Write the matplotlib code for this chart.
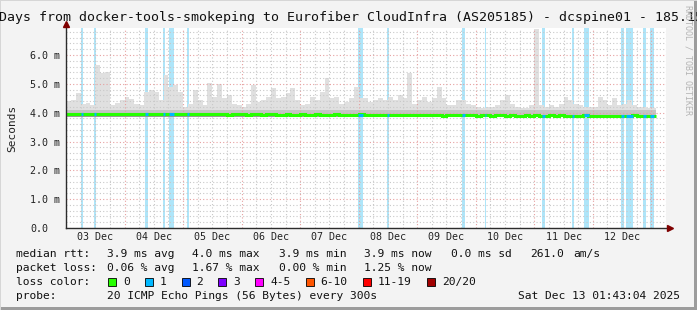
import matplotlib
matplotlib.use("Agg")
import matplotlib.pyplot as plt
import numpy as np
from matplotlib.patches import Rectangle

W, H, DPI = 697, 310, 100
MONO = "DejaVu Sans Mono"

title = "10 Days from docker-tools-smokeping to Eurofiber CloudInfra (AS205185) - dcspine01 - 185.15"
day_labels = ["03 Dec", "04 Dec", "05 Dec", "06 Dec", "07 Dec",
              "08 Dec", "09 Dec", "10 Dec", "11 Dec", "12 Dec"]

# time axis: days since 03 Dec 00:00, graph ends Sat Dec 13 01:43:04
start_day = (1 + 43 / 60 + 4 / 3600) / 24
end_day = 10 + start_day

# smoke (max ping) per 2 hour bin, in ms
bin_hours = 2
smoke_top = [
    4.40, 4.44, 4.68, 4.30, 4.35, 4.25, 5.66, 5.37, 5.40, 4.25,
    4.35, 4.44, 4.56, 4.47, 4.30, 4.25, 4.70, 4.80, 4.73, 4.44,
    5.30, 4.90, 4.96, 4.73, 4.20, 4.30, 4.80, 4.44, 4.25, 5.02,
    4.56, 5.00, 4.50, 4.60, 4.30, 4.25, 4.20, 4.30, 4.96, 4.38,
    4.44, 4.56, 4.85, 4.50, 4.56, 4.68, 4.85, 4.44, 4.25, 4.30,
    4.56, 4.44, 4.73, 5.20, 4.50, 4.56, 4.30, 4.38, 4.50, 4.90,
    4.50, 4.50, 4.38, 4.44, 4.50, 4.44, 4.56, 4.44, 4.60, 4.50,
    5.37, 4.30, 4.44, 4.56, 4.38, 4.50, 4.90, 4.50, 4.25, 4.25,
    4.44, 4.44, 4.30, 4.25, 4.20, 4.15, 4.20, 4.20, 4.25, 4.44,
    4.60, 4.30, 4.20, 4.15, 4.15, 4.25, 6.90, 4.25, 4.20, 4.25,
    4.20, 4.30, 4.56, 4.44, 4.30, 4.25, 4.20, 4.20, 4.20, 4.55,
    4.45, 4.25, 4.50, 4.25, 4.30, 4.45, 4.25, 4.20, 4.20, 4.15,
    4.15,
]
median_rtt = [
    3.95, 3.96, 3.95, 3.96, 3.97, 3.96, 3.95, 3.94, 3.95, 3.96,
    3.96, 3.95, 3.95, 3.94, 3.95, 3.96, 3.95, 3.95, 3.94, 3.95,
    3.96, 3.95, 3.94, 3.95, 3.95, 3.94, 3.95, 3.95, 3.94, 3.94,
    3.95, 3.94, 3.94, 3.93, 3.94, 3.95, 3.94, 3.93, 3.94, 3.94,
    3.93, 3.94, 3.94, 3.93, 3.93, 3.94, 3.93, 3.93, 3.94, 3.93,
    3.93, 3.94, 3.93, 3.92, 3.93, 3.94, 3.93, 3.93, 3.92, 3.93,
    3.94, 3.93, 3.92, 3.93, 3.93, 3.92, 3.93, 3.92, 3.92, 3.93,
    3.92, 3.92, 3.91, 3.92, 3.92, 3.91, 3.92, 3.90, 3.91, 3.92,
    3.91, 3.91, 3.92, 3.91, 3.90, 3.91, 3.91, 3.90, 3.91, 3.91,
    3.90, 3.91, 3.90, 3.90, 3.91, 3.90, 3.91, 3.90, 3.90, 3.91,
    3.90, 3.91, 3.90, 3.89, 3.90, 3.90, 3.91, 3.90, 3.89, 3.90,
    3.90, 3.89, 3.90, 3.90, 3.89, 3.90, 3.91, 3.90, 3.89, 3.90,
    3.90,
]
smoke_low = 3.84
smoke_mid = 4.10

# periods with 1/20 packet loss (days since 03 Dec 00:00)
loss_spans = [
    (0.250, 0.283), (0.483, 0.517), (1.350, 1.400), (1.650, 1.683),
    (1.767, 1.850), (2.067, 2.100), (4.983, 5.067), (5.483, 5.517),
    (6.767, 6.817), (7.150, 7.183), (8.133, 8.183), (8.650, 8.683),
    (8.850, 8.933), (9.483, 9.533), (9.567, 9.683), (9.850, 9.900),
    (9.983, 10.050),
]

loss_names = ["0", "1", "2", "3", "4-5", "6-10", "11-19", "20/20"]
loss_colors = ["#26ff00", "#00b8ff", "#0059ff", "#7e00ff",
               "#ff00ff", "#ff5500", "#ff0000", "#a10000"]

rtt_row = ["3.9 ms avg", "4.0 ms max", "3.9 ms min", "3.9 ms now", "0.0 ms sd", "261.0", "am/s"]
loss_row = ["0.06 % avg", "1.67 % max", "0.00 % min", "1.25 % now"]
probe_text = "20 ICMP Echo Pings (56 Bytes) every 300s"
stamp = "Sat Dec 13 01:43:04 2025"

fig = plt.figure(figsize=(W / DPI, H / DPI), dpi=DPI, facecolor="#f3f3f3")


def fx(px):
    return px / W


def fy(py):
    return 1 - py / H


# frame of the image
fig.patches.append(Rectangle((0, 0), 1, fy(307), transform=fig.transFigure,
                             facecolor="#9c9c9c", lw=0, zorder=-5))
fig.patches.append(Rectangle((fx(694), 0), fx(3), 1, transform=fig.transFigure,
                             facecolor="#9c9c9c", lw=0, zorder=-5))
fig.patches.append(Rectangle((0, fy(1)), 1, fy(0) - fy(1), transform=fig.transFigure,
                             facecolor="#d6d6d6", lw=0, zorder=-5))
fig.patches.append(Rectangle((0, 0), fx(1), 1, transform=fig.transFigure,
                             facecolor="#d6d6d6", lw=0, zorder=-5))

ax = fig.add_axes([fx(66), fy(228), fx(600), fy(28) - fy(228)])
ax.set_facecolor("white")
for s in ax.spines.values():
    s.set_visible(False)

for s, e in loss_spans:
    ax.axvspan(s, e, color="#aee5f9", lw=0, zorder=0.5)

edges = np.arange(len(smoke_top) + 1) * bin_hours / 24
top = np.array(smoke_top)
med = np.array(median_rtt)
ax.stairs(top, edges, baseline=smoke_low, fill=True, color="#e0e0e0", zorder=1)
ax.stairs(np.minimum(top, smoke_mid), edges, baseline=smoke_low, fill=True,
          color="#c4c4c4", zorder=1.1)
ax.stairs(med - 0.03, edges, baseline=smoke_low + 0.01, fill=True,
          color="#9a9a9a", zorder=1.2)
ax.stairs(med, edges, baseline=None, color=loss_colors[0], lw=2.2, zorder=3)
for s, e in loss_spans:
    i = min(int(s * 24 / bin_hours), len(med) - 1)
    ax.hlines(med[i], s, e, color=loss_colors[1], lw=2.2, zorder=3.5)

ax.set_xlim(start_day, end_day)
ax.set_ylim(0, 200 / 28.83)

ax.set_xticks(np.arange(1, 11))
ax.set_xticks(np.arange(0, 10.5, 0.25), minor=True)
ax.set_yticks(np.arange(0, 7))
ax.set_yticks(np.arange(0, 7, 0.2), minor=True)
ax.set_xticklabels([])
ax.set_yticklabels(["0.0"] + [f"{v:.1f} m" for v in range(1, 7)],
                   fontfamily=MONO, fontsize=7.2, color="#222222", ha="left")
ax.tick_params(which="both", length=0)
ax.tick_params(axis="y", pad=36 / 1.389)
ax.set_axisbelow(False)
ax.grid(which="minor", color="#c8c8c8", ls=(0, (1, 2)), lw=0.8)
ax.grid(which="major", color="#e6a0a0", ls=(0, (1, 2)), lw=0.8)

sec = ax.secondary_xaxis("bottom")
sec.set_xticks(np.arange(10) + 0.5, day_labels, fontfamily=MONO, fontsize=7.2, color="#222222")
sec.tick_params(length=0, pad=3)
sec.spines["bottom"].set_visible(False)

# axes with arrows
ax.plot([0, 1.007], [0, 0], transform=ax.transAxes, color="#2c2c2c", lw=1, clip_on=False, zorder=5)
ax.plot([0, 0], [0, 1.02], transform=ax.transAxes, color="#2c2c2c", lw=1, clip_on=False, zorder=5)
ax.plot(1.007, 0, marker=">", ms=4, color="#7f0000", transform=ax.transAxes, clip_on=False, zorder=6)
ax.plot(0, 1.02, marker="^", ms=4, color="#7f0000", transform=ax.transAxes, clip_on=False, zorder=6)

ax.set_ylabel("Seconds", fontfamily=MONO, fontsize=8, color="#222222")
ax.yaxis.set_label_coords(-(66 - 17) / 600, 0.5)

fig.text(fx(-25), fy(18), title, fontfamily=MONO, fontsize=9.5, color="#111111",
         ha="left", va="center")
fig.text(fx(688), fy(5), "RRDTOOL / TOBI OETIKER", fontfamily=MONO, fontsize=6,
         color="#b4b4b4", rotation=270, ha="center", va="top")

txt = dict(fontfamily=MONO, fontsize=8.1, color="#111111", va="center")
col_x = [107, 192, 279, 364, 451, 530, 573]
fig.text(fx(16), fy(254), "median rtt:", **txt)
for x, s in zip(col_x, rtt_row):
    fig.text(fx(x), fy(254), s, **txt)
fig.text(fx(16), fy(268), "packet loss:", **txt)
for x, s in zip(col_x, loss_row):
    fig.text(fx(x), fy(268), s, **txt)
fig.text(fx(16), fy(282), "loss color:", **txt)
x = 108
for name, c in zip(loss_names, loss_colors):
    fig.patches.append(Rectangle((fx(x), fy(286)), fx(8), fy(278) - fy(286),
                                 transform=fig.transFigure, facecolor=c,
                                 edgecolor="black", lw=0.6))
    fig.text(fx(x + 15), fy(282), name, **txt)
    x += 15 + len(name) * 6.8 + 15
fig.text(fx(16), fy(296), "probe:", **txt)
fig.text(fx(107), fy(296), probe_text, **txt)
fig.text(fx(680), fy(296), stamp, ha="right", **txt)

fig.savefig("out.png", dpi=DPI, facecolor=fig.get_facecolor())
